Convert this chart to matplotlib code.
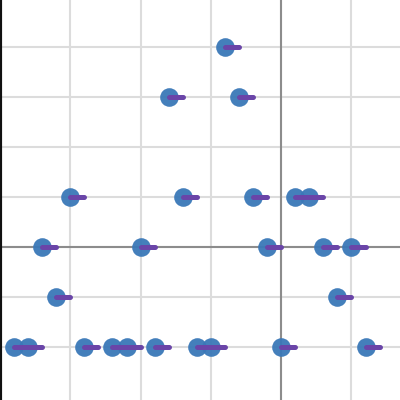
import numpy as np
from matplotlib import pyplot as plt

# Data (x, y) positions of each point
xs = [-4,
      -8, -3,
      -15, -7, -2, 1, 2,
      -17, -10, -1, 3, 5,
      -16, 4,
      -19, -18, -14, -12, -11, -9, -6, -5, 0, 6]
ys = [4,
      3, 3,
      1, 1, 1, 1, 1,
      0, 0, 0, 0, 0,
      -1, -1,
      -2, -2, -2, -2, -2, -2, -2, -2, -2, -2]
dx = [1] * len(xs)  # length of the purple tail in x

fig = plt.figure(figsize=(4, 4), dpi=100)
ax = fig.add_axes([0, 0, 1, 1])

ax.scatter(xs, ys, s=180, color="#3a78b8", alpha=0.95, zorder=3, linewidths=0)
for x, y, d in zip(xs, ys, dx):
    ax.plot([x, x + d], [y, y], color="#6a45a8", lw=3.6,
            solid_capstyle="round", zorder=4)

ax.axhline(0, color="#8c8c8c", lw=1.5, zorder=2)
ax.axvline(0, color="#8c8c8c", lw=1.5, zorder=2)

ax.set_xticks(np.arange(-15, 10, 5))
ax.set_yticks(np.arange(-2, 5, 1))
ax.grid(True, color="#dcdcdc", lw=1.5)
ax.tick_params(length=0, labelleft=False, labelbottom=False)

ax.set_xlim(-20, 8.45)
ax.set_ylim(-3.06, 4.94)

for side in ["top", "right", "bottom"]:
    ax.spines[side].set_visible(False)
ax.spines["left"].set_color("#111111")
ax.spines["left"].set_linewidth(3)

fig.savefig("out.png", dpi=100)
